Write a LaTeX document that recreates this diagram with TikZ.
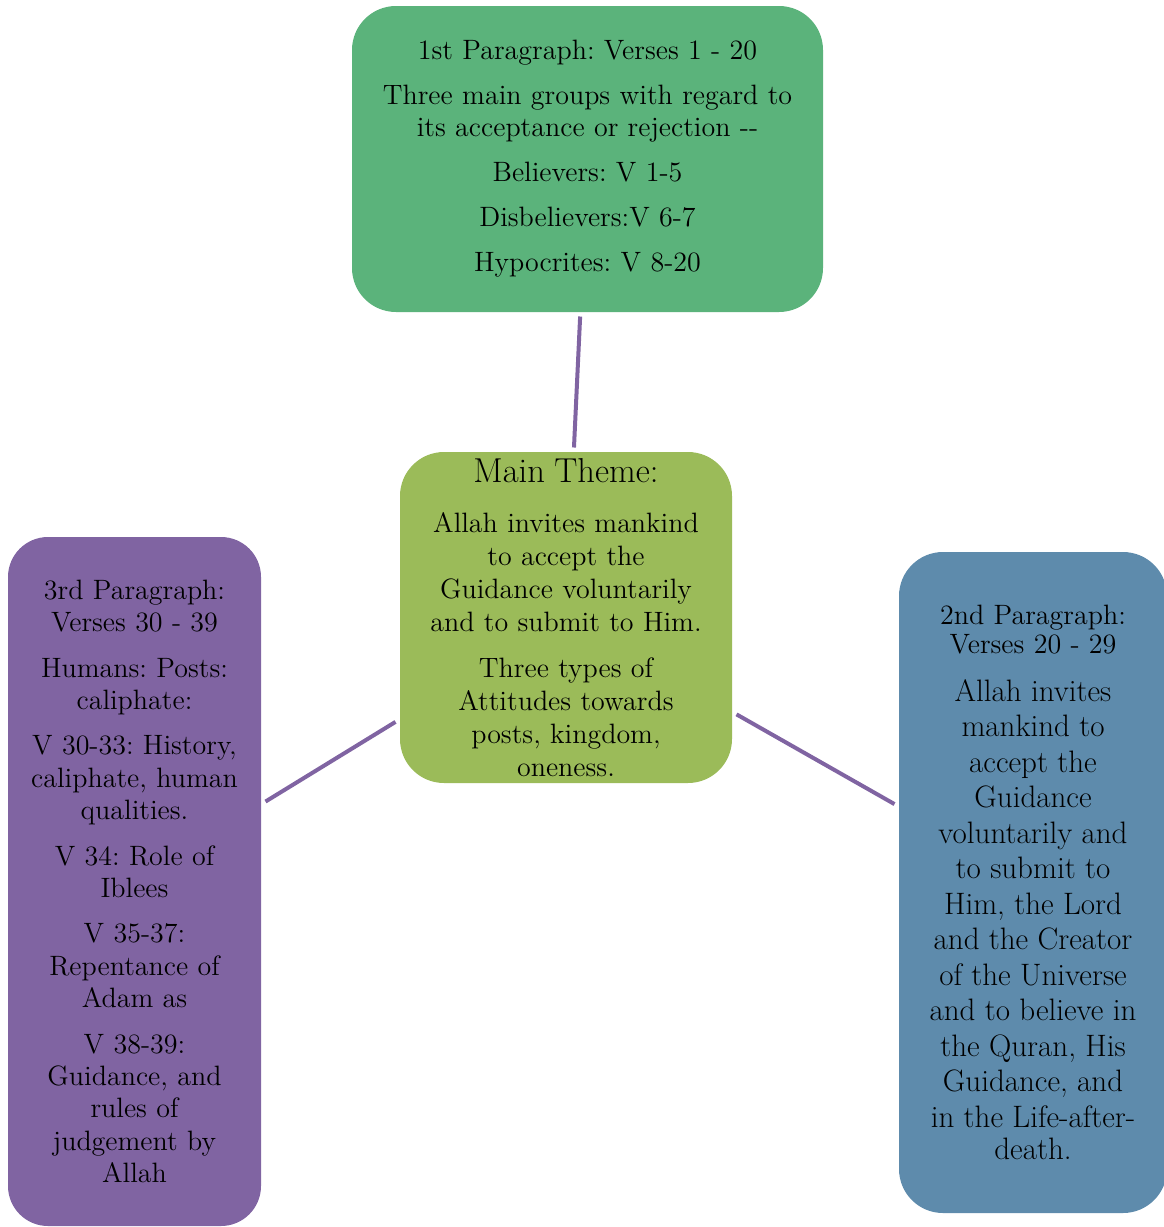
\documentclass[tikz,border=0pt]{standalone}
\usepackage{fontspec}
\definecolor{pgreen}{RGB}{91,179,123}
\definecolor{polive}{RGB}{155,187,89}
\definecolor{ppurple}{RGB}{128,100,162}
\definecolor{pblue}{RGB}{94,139,172}
\frenchspacing

\begin{document}
\begin{tikzpicture}[x=0.5pt, y=-0.5pt,
         topic/.style={
         % The shape:
         rectangle, rounded corners=22pt,
         % The filling
         draw=none, fill=#1,
         % The text
         align=center, inner xsep=4pt, inner ysep=0pt, outer sep=2.25pt,
         % Font
         font=\fontsize{14}{16.2}\selectfont},
         link/.style={draw=ppurple, line width=2pt}]
         \useasboundingbox (0,0) rectangle (1163,1227);
         % Main theme in the middle
         \node[topic=polive, text width=158pt, minimum height=165.5pt,
               font=\fontsize{14}{16.5}\selectfont] (theme) at (566,617.5)
            {{\fontsize{17.3}{20}\selectfont Main Theme:}\\[8.5pt]
             Allah invites mankind\\ to accept the\\ Guidance voluntarily\\ and to submit to Him.\\[6.5pt]
             Three types of\\ Attitudes towards\\ posts, kingdom,\\ oneness.};
         % The three paragraphs
         \node[topic=pgreen, text width=227.5pt, minimum height=153pt,
               font=\fontsize{14}{16}\selectfont] (para1) at (587.5,159)
            {1st Paragraph: Verses 1 - 20\\[6.5pt]
             Three main groups with regard to\\ its acceptance or rejection -{}-\\[6.5pt]
             Believers: V 1-5\\[6.5pt]
             Disbelievers:V 6-7\\[6.5pt]
             Hypocrites: V 8-20};
         \node[topic=pblue, text width=126pt, minimum height=330.5pt] (para2) at (1033,882.5)
            {2nd Paragraph:\\[-1.75pt] Verses 20 - 29\\[6.25pt]
             \fontsize{15.5}{17.75}\selectfont
             Allah invites\\ mankind to\\ accept the\\ Guidance\\ voluntarily and\\ to submit to\\
             Him, the Lord\\ and the Creator\\ of the Universe\\ and to believe in\\
             the Quran, His\\ Guidance, and\\ in the Life-after-\\ death.};
         \node[topic=ppurple, rounded corners=20pt, text width=118.5pt, minimum height=344.5pt] (para3) at (134.5,881.5)
            {3rd Paragraph:\\ Verses 30 - 39\\[6.5pt]
             Humans: Posts:\\ caliphate:\\[6.5pt]
             V 30-33: History,\\ caliphate, human\\ qualities.\\[6.5pt]
             V 34: Role of\\ Iblees\\[6.5pt]
             V 35-37:\\ Repentance of\\ Adam as\\[6.5pt]
             V 38-39:\\ Guidance, and\\ rules of\\ judgement by\\ Allah};
         % Links
         \draw[link] (theme) -- (para1);
         \draw[link] (theme) -- (para2);
         \draw[link] (theme) -- (para3);
\end{tikzpicture}
\end{document}
